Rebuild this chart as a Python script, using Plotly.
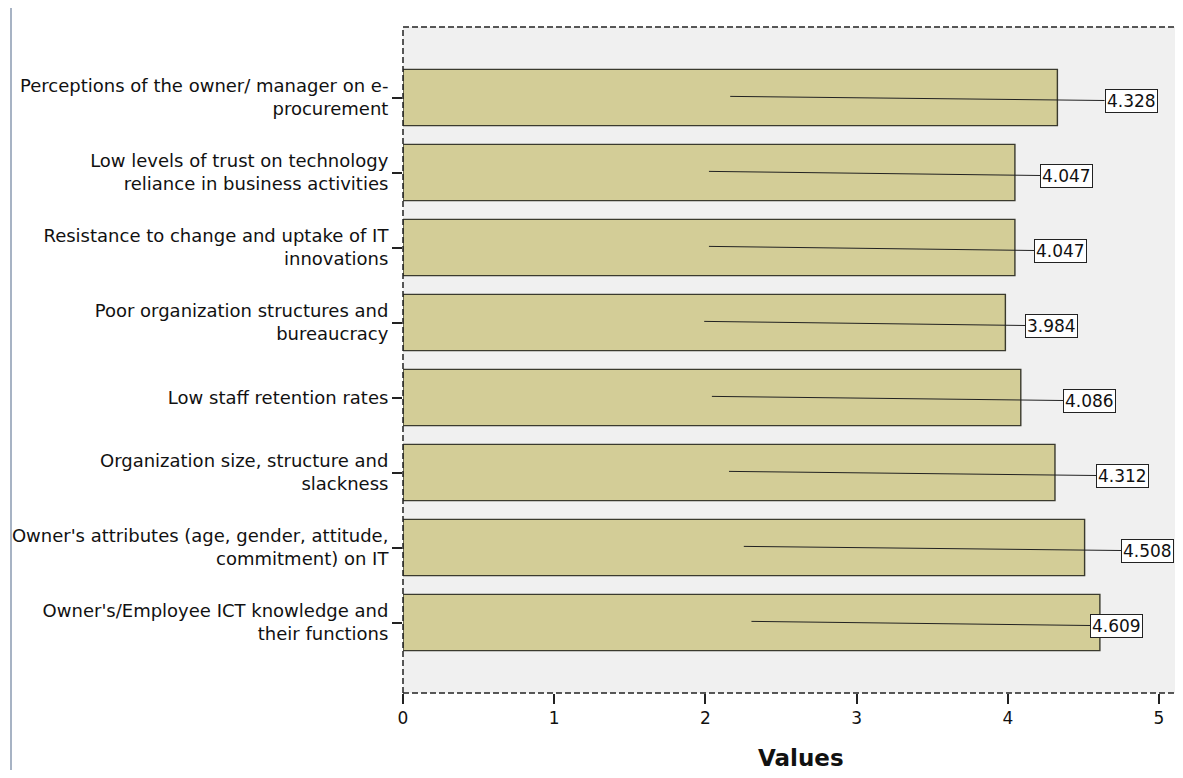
import plotly.graph_objects as go

categories = [
    "Perceptions of the owner/ manager on e-<br>procurement",
    "Low levels of trust on technology<br>reliance in business activities",
    "Resistance to change and uptake of IT<br>innovations",
    "Poor organization structures and<br>bureaucracy",
    "Low staff retention rates",
    "Organization size, structure and<br>slackness",
    "Owner's attributes (age, gender, attitude,<br>commitment) on IT",
    "Owner's/Employee ICT knowledge and<br>their functions",
]
values = [4.328, 4.047, 4.047, 3.984, 4.086, 4.312, 4.508, 4.609]
value_labels = ["4.328", "4.047", "4.047", "3.984", "4.086", "4.312", "4.508", "4.609"]
x_ticks = [0, 1, 2, 3, 4, 5]

# label box centres (x in data units)
label_centers = [4.815, 4.39, 4.35, 4.29, 4.54, 4.76, 4.925, 4.72]
label_half_w = 0.175

# the page body has an 8px margin; compensate so the plot lands where the reference is
OFF = 8
W, H = 1183 - OFF, 778 - 2 * OFF
ML, MT = 403 - OFF, 27 - OFF
MB = H - (693 - OFF)
PW = W - ML
PH = H - MT - MB
px_per_unit = 151.2
xmax = PW / px_per_unit

FONT = "'DejaVu Sans', Verdana, sans-serif"

fig = go.Figure()
fig.add_trace(go.Bar(
    y=list(range(len(categories))), x=values, orientation="h",
    width=0.75,
    marker=dict(color="#D3CD97", line=dict(color="#3A3A2E", width=1.4)),
    hoverinfo="x",
))

annotations = []
for i, (v, c) in enumerate(zip(values, label_centers)):
    fig.add_trace(go.Scatter(
        x=[v / 2, c - label_half_w], y=[i - 0.015, i + 0.04],
        mode="lines", line=dict(color="#222222", width=1),
        hoverinfo="skip", showlegend=False,
    ))
    annotations.append(dict(
        x=c, y=i + 0.04, xref="x", yref="y", text=value_labels[i],
        showarrow=False, font=dict(family=FONT, size=17, color="#111"),
        bgcolor="white", bordercolor="#222", borderwidth=1, borderpad=1,
    ))

annotations.append(dict(
    x=(801 - 403) / PW, y=-65 / PH, xref="paper", yref="paper",
    text="<b>Values</b>", showarrow=False,
    font=dict(family=FONT, size=23, color="#111"), yanchor="middle",
))

ny = len(categories)
dash = "6px,3px"
fig.update_layout(
    width=W, height=H,
    margin=dict(l=ML, r=0, t=MT, b=MB),
    paper_bgcolor="white", plot_bgcolor="#F0F0F0",
    showlegend=False,
    font=dict(family=FONT, color="#111"),
    xaxis=dict(
        range=[0, xmax], tickvals=x_ticks, ticks="outside", ticklen=10,
        tickcolor="#222", tickwidth=1.5, showgrid=False, zeroline=False,
        showline=False, tickfont=dict(family=FONT, size=17, color="#111"),
    ),
    yaxis=dict(
        range=[ny - 0.06, -0.94], tickvals=list(range(ny)), ticktext=categories,
        ticks="outside", ticklen=10, tickcolor="#222", tickwidth=1.5,
        showgrid=False, zeroline=False, showline=False,
        tickfont=dict(family=FONT, size=18, color="#111"),
    ),
    shapes=[
        dict(type="line", xref="paper", yref="paper", x0=0, x1=1, y0=1, y1=1,
             line=dict(color="#222", width=1.5, dash=dash)),
        dict(type="line", xref="paper", yref="paper", x0=0, x1=1, y0=0, y1=0,
             line=dict(color="#222", width=1.5, dash=dash)),
        dict(type="line", xref="paper", yref="paper", x0=0, x1=0, y0=0, y1=1,
             line=dict(color="#222", width=1.5, dash=dash)),
        dict(type="line", xref="paper", yref="paper",
             x0=(11 - 403) / PW, x1=(11 - 403) / PW,
             y0=-MB / PH, y1=1 + (27 - 5) / PH,
             line=dict(color="#8A9AB0", width=1.5)),
    ],
    annotations=annotations,
)

fig.write_html("out.html")
